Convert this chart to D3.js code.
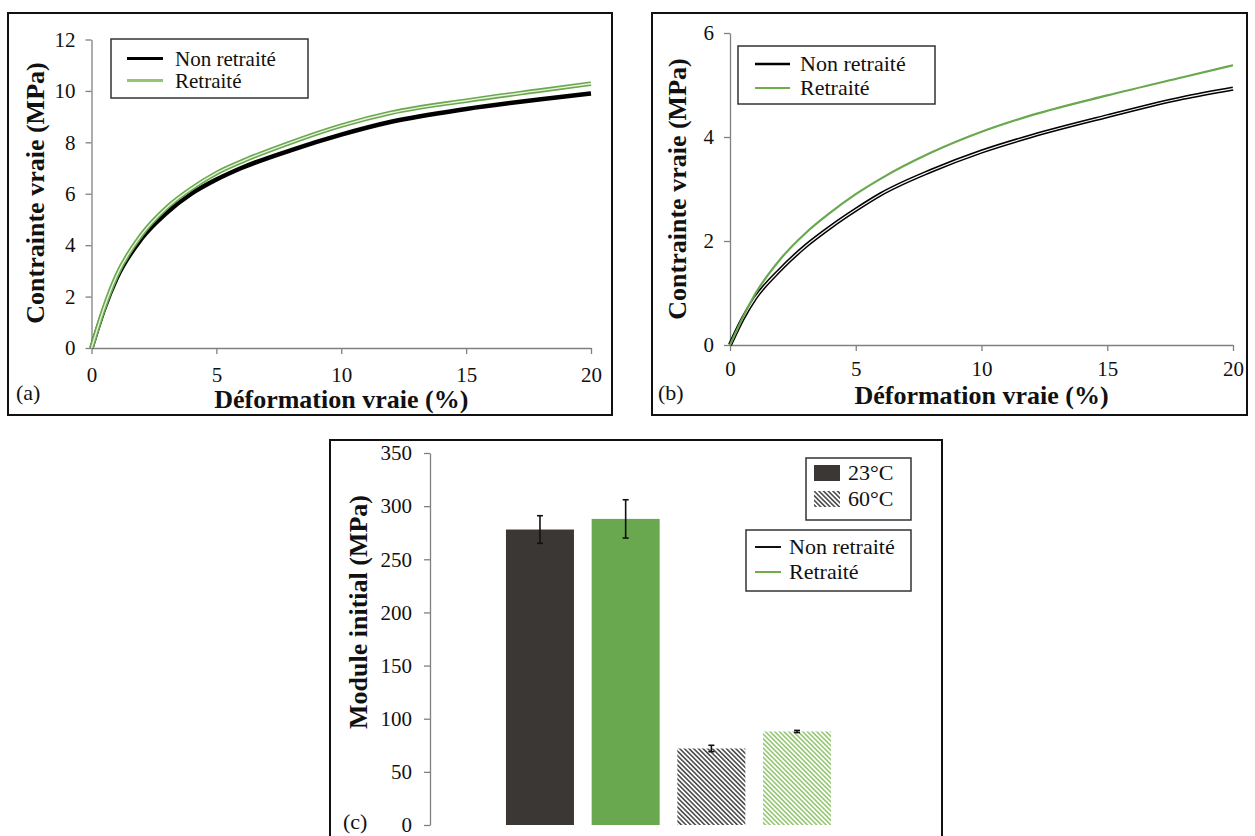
<!DOCTYPE html>
<html>
<head>
<meta charset="utf-8">
<script src="https://cdn.jsdelivr.net/npm/d3@7"></script>
<style>
  html, body { margin: 0; padding: 0; background: #fff; }
  svg { display: block; }
  svg text { font-family: "Liberation Serif", "DejaVu Serif", serif !important; }
</style>
</head>
<body>
<svg id="chart" width="1255" height="836"></svg>
<script>
// ---------------- DATA ----------------
// Panel (a): true stress (MPa) vs true strain (%)
const strainA = [0, 0.5, 1, 2, 3, 4, 5, 6, 8, 10, 12, 15, 18, 20];
const nonRetraiteA = [0, 1.5, 2.7, 4.25, 5.25, 6.0, 6.55, 7.0, 7.7, 8.3, 8.8, 9.3, 9.68, 9.9];
const retraiteA    = [0, 1.55, 2.8, 4.4, 5.45, 6.2, 6.8, 7.25, 8.0, 8.65, 9.15, 9.62, 10.02, 10.28];

// Panel (b)
const strainB = [0, 0.5, 1, 2, 3, 4, 5, 6, 8, 10, 12, 15, 18, 20];
const nonRetraiteB = [0, 0.5, 0.9, 1.45, 1.9, 2.27, 2.6, 2.9, 3.35, 3.72, 4.02, 4.4, 4.75, 4.93];
const retraiteB    = [0, 0.52, 0.98, 1.65, 2.15, 2.55, 2.9, 3.2, 3.7, 4.1, 4.42, 4.8, 5.15, 5.38];

// Panel (c): initial modulus (MPa)
const barCategories = ["23°C Non retraité", "23°C Retraité", "60°C Non retraité", "60°C Retraité"];
const barValues = [278, 288, 72, 88];
const barErrors = [13, 18, 3, 1];

// Tick labels
const ticksYA = [0, 2, 4, 6, 8, 10, 12];
const ticksYB = [0, 2, 4, 6];
const ticksX = [0, 5, 10, 15, 20];
const ticksYC = [0, 50, 100, 150, 200, 250, 300, 350];

const legendSeries = ["Non retraité", "Retraité"];
const legendTemps = ["23°C", "60°C"];

// ---------------- STYLE ----------------
const FONT = "Liberation Serif, DejaVu Serif, serif";
const BLACK = "#000000";
const GREEN = "#6aa84f";
const GREEN_LIGHT = "#e9f3da";
const DARK_BAR = "#3a3735";
const AXIS = "#808080";
const fmt = d3.format("d");

const svg = d3.select("#chart");
svg.append("rect").attr("width", 1255).attr("height", 836).attr("fill", "#fff");

const defs = svg.append("defs");
function hatch(id, color) {
  const p = defs.append("pattern").attr("id", id)
    .attr("patternUnits", "userSpaceOnUse")
    .attr("width", 3.3).attr("height", 3.3)
    .attr("patternTransform", "rotate(-45)");
  p.append("rect").attr("width", 3.3).attr("height", 3.3).attr("fill", "#fff");
  p.append("line").attr("x1", 0.8).attr("y1", 0).attr("x2", 0.8).attr("y2", 3.3)
    .attr("stroke", color).attr("stroke-width", 1.4);
}
hatch("hatchDark", "#333");
hatch("hatchGreen", "#86c060");

function frame(x, y, w, h) {
  svg.append("rect").attr("x", x).attr("y", y).attr("width", w).attr("height", h)
    .attr("fill", "none").attr("stroke", "#111").attr("stroke-width", 2);
}

function styleAxis(g) {
  g.attr("font-family", FONT);
  g.selectAll(".domain").attr("stroke", AXIS).attr("stroke-width", 1.3);
  g.selectAll(".tick line").attr("stroke", AXIS).attr("stroke-width", 1.3);
  g.selectAll(".tick text").attr("font-size", 21).attr("fill", "#222");
}

function linePanel(opt) {
  const x = d3.scaleLinear().domain([0, 20]).range(opt.xRange);
  const y = d3.scaleLinear().domain([0, opt.yMax]).range(opt.yRange);
  const gx = svg.append("g").attr("transform", `translate(0,${opt.yRange[0]})`)
    .call(d3.axisBottom(x).tickValues(ticksX).tickFormat(fmt).tickSize(6).tickSizeOuter(0).tickPadding(opt.xPad));
  styleAxis(gx);
  const gy = svg.append("g").attr("transform", `translate(${opt.xRange[0]},0)`)
    .call(d3.axisLeft(y).tickValues(opt.yTicks).tickFormat(fmt).tickSize(6).tickSizeOuter(0).tickPadding(10));
  styleAxis(gy);

  const line = d3.line().curve(d3.curveMonotoneX);
  const pts = (xs, ys) => xs.map((v, i) => [x(v), y(ys[i])]);

  // Non retraité
  const pn = pts(opt.strain, opt.non);
  svg.append("path").attr("d", line(pn)).attr("fill", "none")
    .attr("stroke", BLACK).attr("stroke-width", opt.blackW);
  if (opt.blackInner) {
    svg.append("path").attr("d", line(pn)).attr("fill", "none")
      .attr("stroke", "#f4f4f4").attr("stroke-width", opt.blackInner);
  }
  // Retraité
  const pr = pts(opt.strain, opt.ret);
  svg.append("path").attr("d", line(pr)).attr("fill", "none")
    .attr("stroke", GREEN).attr("stroke-width", opt.greenW);
  if (opt.greenInner) {
    svg.append("path").attr("d", line(pr)).attr("fill", "none")
      .attr("stroke", GREEN_LIGHT).attr("stroke-width", opt.greenInner);
  }

  // axis titles
  svg.append("text").attr("x", (opt.xRange[0] + opt.xRange[1]) / 2).attr("y", opt.xTitleY)
    .attr("text-anchor", "middle").attr("font-size", 26).attr("font-weight", "bold")
    .text("Déformation vraie (%)");
  svg.append("text")
    .attr("transform", `translate(${opt.yTitleX},${opt.yTitleCY}) rotate(-90)`)
    .attr("text-anchor", "middle").attr("font-size", 26).attr("font-weight", "bold")
    .text("Contrainte vraie (MPa)");

  // legend
  const L = opt.legend;
  svg.append("rect").attr("x", L.x).attr("y", L.y).attr("width", L.w).attr("height", L.h)
    .attr("fill", "#fff").attr("stroke", "#333").attr("stroke-width", 1.5);
  legendSeries.forEach((s, i) => {
    const cy = L.y + L.row0 + i * L.dy;
    svg.append("line").attr("x1", L.x + L.lx0).attr("x2", L.x + L.lx1)
      .attr("y1", cy).attr("y2", cy)
      .attr("stroke", i === 0 ? BLACK : L.greenColor)
      .attr("stroke-width", i === 0 ? L.blackLW : L.greenLW);
    svg.append("text").attr("x", L.x + L.tx).attr("y", cy + 7)
      .attr("font-size", L.fs).text(s);
  });

  svg.append("text").attr("x", opt.tagX).attr("y", opt.tagY).attr("font-size", 22).text(opt.tag);
}

// ---------- Panel (a) ----------
frame(8, 13, 604, 402);
linePanel({
  xRange: [91.5, 591], yRange: [348, 39.5], yMax: 12, yTicks: ticksYA, xPad: 13,
  strain: strainA, non: nonRetraiteA, ret: retraiteA,
  blackW: 4.5, blackInner: 0, greenW: 4.6, greenInner: 1.4,
  xTitleY: 408, yTitleX: 44, yTitleCY: 193,
  legend: { x: 111, y: 39, w: 197, h: 59, row0: 19.5, dy: 22, lx0: 16, lx1: 52, tx: 64, fs: 21,
            greenColor: "#93c572", blackLW: 3, greenLW: 3 },
  tag: "(a)", tagX: 16, tagY: 400
});

// ---------- Panel (b) ----------
frame(652, 13, 595, 402);
linePanel({
  xRange: [730, 1233], yRange: [345, 33], yMax: 6, yTicks: ticksYB, xPad: 10,
  strain: strainB, non: nonRetraiteB, ret: retraiteB,
  blackW: 4.2, blackInner: 1.2, greenW: 2.2, greenInner: 0,
  xTitleY: 404, yTitleX: 686, yTitleCY: 189,
  legend: { x: 738, y: 46, w: 197, h: 58, row0: 18, dy: 24, lx0: 17, lx1: 52, tx: 62, fs: 22,
            greenColor: "#70ad47", blackLW: 2.5, greenLW: 2 },
  tag: "(b)", tagX: 658, tagY: 400
});

// ---------- Panel (c) ----------
frame(330, 440, 612, 402);
const xc = d3.scaleBand().domain(barCategories).range([497.4, 839.6])
  .paddingInner(0.2065).paddingOuter(0.1);
const yc = d3.scaleLinear().domain([0, 350]).range([825, 453]);
const gyc = svg.append("g").attr("transform", "translate(430,0)")
  .call(d3.axisLeft(yc).tickValues(ticksYC).tickFormat(fmt).tickSize(6).tickSizeOuter(0).tickPadding(12));
styleAxis(gyc);

const barFills = [DARK_BAR, GREEN, "url(#hatchDark)", "url(#hatchGreen)"];
svg.append("g").selectAll("rect").data(barCategories).join("rect")
  .attr("x", d => xc(d)).attr("width", xc.bandwidth())
  .attr("y", (d, i) => yc(barValues[i]))
  .attr("height", (d, i) => yc(0) - yc(barValues[i]))
  .attr("fill", (d, i) => barFills[i]);

// error bars
const eb = svg.append("g").attr("stroke", "#111").attr("stroke-width", 1.6);
barCategories.forEach((c, i) => {
  const cx = xc(c) + xc.bandwidth() / 2;
  const y1 = yc(barValues[i] + barErrors[i]), y2 = yc(barValues[i] - barErrors[i]);
  eb.append("line").attr("x1", cx).attr("x2", cx).attr("y1", y1).attr("y2", y2);
  eb.append("line").attr("x1", cx - 3).attr("x2", cx + 3).attr("y1", y1).attr("y2", y1);
  eb.append("line").attr("x1", cx - 3).attr("x2", cx + 3).attr("y1", y2).attr("y2", y2);
});

svg.append("text").attr("transform", "translate(367,612) rotate(-90)")
  .attr("text-anchor", "middle").attr("font-size", 26).attr("font-weight", "bold")
  .text("Module initial (MPa)");
svg.append("text").attr("x", 343).attr("y", 829).attr("font-size", 22).text("(c)");

// legend: temperatures
svg.append("rect").attr("x", 806).attr("y", 458).attr("width", 105).attr("height", 62)
  .attr("fill", "#fff").attr("stroke", "#333").attr("stroke-width", 1.5);
legendTemps.forEach((t, i) => {
  const cy = 473 + i * 26;
  svg.append("rect").attr("x", 814).attr("y", cy - 8).attr("width", 26).attr("height", 16)
    .attr("fill", i === 0 ? DARK_BAR : "url(#hatchDark)");
  svg.append("text").attr("x", 848).attr("y", cy + 7).attr("font-size", 22).text(t);
});
// legend: series
svg.append("rect").attr("x", 746).attr("y", 530).attr("width", 165).attr("height", 61)
  .attr("fill", "#fff").attr("stroke", "#333").attr("stroke-width", 1.5);
legendSeries.forEach((s, i) => {
  const cy = 547 + i * 25;
  svg.append("line").attr("x1", 755).attr("x2", 781).attr("y1", cy).attr("y2", cy)
    .attr("stroke", i === 0 ? "#111" : "#70ad47").attr("stroke-width", 2);
  svg.append("text").attr("x", 789).attr("y", cy + 7).attr("font-size", 22).text(s);
});

svg.selectAll("text").attr("font-family", FONT).attr("fill", "#111");
</script>
</body>
</html>
